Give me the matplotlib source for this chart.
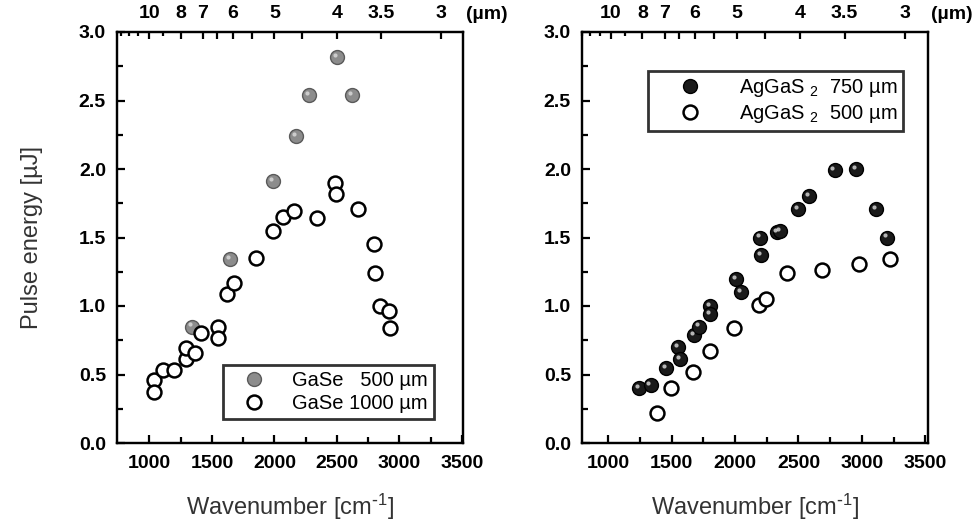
import numpy as np
import matplotlib
matplotlib.use("Agg")
import matplotlib.pyplot as plt
from matplotlib.transforms import ScaledTranslation

plt.rcParams['font.family'] = ['Liberation Sans', 'DejaVu Sans']
plt.rcParams['mathtext.default'] = 'regular'

# GaSe data (wavenumber cm-1, pulse energy uJ)
gase500_wn = [1340, 1645, 1990, 2175, 2280, 2500, 2620]
gase500_e = [0.85, 1.34, 1.91, 2.24, 2.54, 2.82, 2.54]
gase1000_wn = [1040, 1040, 1112, 1198, 1294, 1294, 1366, 1414, 1545, 1545,
               1619, 1678, 1851, 1988, 2065, 2158, 2340, 2487, 2495, 2666,
               2799, 2807, 2847, 2914, 2927]
gase1000_e = [0.46, 0.37, 0.53, 0.53, 0.61, 0.69, 0.66, 0.80, 0.85, 0.77,
              1.09, 1.17, 1.35, 1.55, 1.65, 1.69, 1.64, 1.90, 1.82, 1.71,
              1.45, 1.24, 1.00, 0.96, 0.84]

# AgGaS2 data
ag750_wn = [1247, 1335, 1457, 1551, 1564, 1675, 1719, 1805, 1805, 2005, 2049,
            2200, 2208, 2330, 2356, 2499, 2584, 2784, 2953, 3109, 3200]
ag750_e = [0.40, 0.42, 0.55, 0.70, 0.61, 0.79, 0.85, 1.00, 0.94, 1.20, 1.10,
           1.50, 1.37, 1.54, 1.55, 1.71, 1.80, 1.99, 2.00, 1.71, 1.50]
ag500_wn = [1382, 1494, 1668, 1805, 1992, 2187, 2247, 2408, 2688, 2979, 3218]
ag500_e = [0.22, 0.40, 0.52, 0.67, 0.84, 1.01, 1.05, 1.24, 1.26, 1.31, 1.34]

wn_ticks = [1000, 1500, 2000, 2500, 3000, 3500]
e_ticks = [0.0, 0.5, 1.0, 1.5, 2.0, 2.5, 3.0]
wl_major = [10, 8, 7, 6.5, 6, 5.5, 5, 4.5, 4, 3.5, 3]
wl_labels = ['10', '8', '7', '', '6', '', '5', '', '4', '3.5', '3']
wl_minor = [13, 12, 11, 9]

W, H = 978, 531
fig = plt.figure(figsize=(W / 100, H / 100), dpi=100)
ax1 = fig.add_axes([117 / W, 88 / H, 346 / W, 411 / H])
ax2 = fig.add_axes([582 / W, 88 / H, 346 / W, 411 / H])

label_color = '#333333'
tick_fs = 14


def style(ax, xlim):
    ax.set_xlim(*xlim)
    ax.set_ylim(0, 3.0)
    ax.set_xticks(wn_ticks)
    ax.set_xticks(np.arange(1250, 3500, 500), minor=True)
    ax.set_yticks(e_ticks)
    ax.set_yticklabels(['%.1f' % v for v in e_ticks])
    ax.set_yticks(np.arange(0.25, 3.0, 0.5), minor=True)
    for s in ax.spines.values():
        s.set_linewidth(1.6)
    ax.tick_params(which='both', direction='in', top=False, right=False,
                   width=1.6)
    ax.tick_params(which='major', length=6)
    ax.tick_params(which='minor', length=4)
    ax.tick_params(axis='x', pad=9, labelsize=tick_fs)
    ax.tick_params(axis='y', pad=8, labelsize=tick_fs)
    for t in ax.get_xticklabels() + ax.get_yticklabels():
        t.set_fontweight('bold')
    ax.set_xlabel('Wavenumber [cm$^{\\text{-}1}$]', fontsize=17,
                  color=label_color, labelpad=14)

    top = ax.twiny()
    top.set_xlim(*xlim)
    top.set_xticks(1e4 / np.array(wl_major))
    top.set_xticklabels(wl_labels)
    top.set_xticks(1e4 / np.array(wl_minor), minor=True)
    top.tick_params(which='both', direction='in', width=1.6, pad=7,
                    labelsize=tick_fs)
    top.tick_params(which='major', length=5)
    top.tick_params(which='minor', length=3)
    for t in top.get_xticklabels():
        t.set_fontweight('bold')
    for s in top.spines.values():
        s.set_linewidth(1.6)
    ax.text(1.01, 1.022, '(µm)', transform=ax.transAxes, ha='left',
            va='bottom', fontsize=tick_fs, fontweight='bold')


def spheres(ax, x, y, face, edge, label):
    ax.plot(x, y, 'o', ms=10, mfc=face, mec=edge, mew=1.0, label=label,
            zorder=3)
    off = ax.transData + ScaledTranslation(-1.5 / 72, 1.5 / 72,
                                           fig.dpi_scale_trans)
    ax.plot(x, y, 'o', ms=3, mfc='#dddddd', mec='none', alpha=0.8,
            transform=off, zorder=4)


def rings(ax, x, y, label):
    ax.plot(x, y, 'o', ms=10, mfc='white', mec='black', mew=1.8,
            label=label, zorder=3)


style(ax1, (740, 3510))
spheres(ax1, gase500_wn, gase500_e, '#8c8c8c', '#5a5a5a', 'GaSe   500 µm')
rings(ax1, gase1000_wn, gase1000_e, 'GaSe 1000 µm')
ax1.set_ylabel('Pulse energy [µJ]', fontsize=17, color=label_color,
               labelpad=26)
leg1 = ax1.legend(loc='lower right', bbox_to_anchor=(0.915, 0.058),
                  fontsize=14.5, frameon=True, fancybox=False,
                  edgecolor='black', handletextpad=0.7, borderpad=0.3,
                  labelspacing=0.2, handlelength=2.4, borderaxespad=0)
leg1.get_frame().set_linewidth(2)

style(ax2, (795, 3520))
spheres(ax2, ag750_wn, ag750_e, '#1a1a1a', 'black', 'AgGaS $_2$  750 µm')
rings(ax2, ag500_wn, ag500_e, 'AgGaS $_2$  500 µm')
leg2 = ax2.legend(loc='upper right', bbox_to_anchor=(0.928, 0.905),
                  fontsize=14.5, frameon=True, fancybox=False,
                  edgecolor='black', handletextpad=0.6, borderpad=0.3,
                  labelspacing=0.2, handlelength=3.6, borderaxespad=0)
leg2.get_frame().set_linewidth(2)

fig.savefig('out.png', dpi=100)
